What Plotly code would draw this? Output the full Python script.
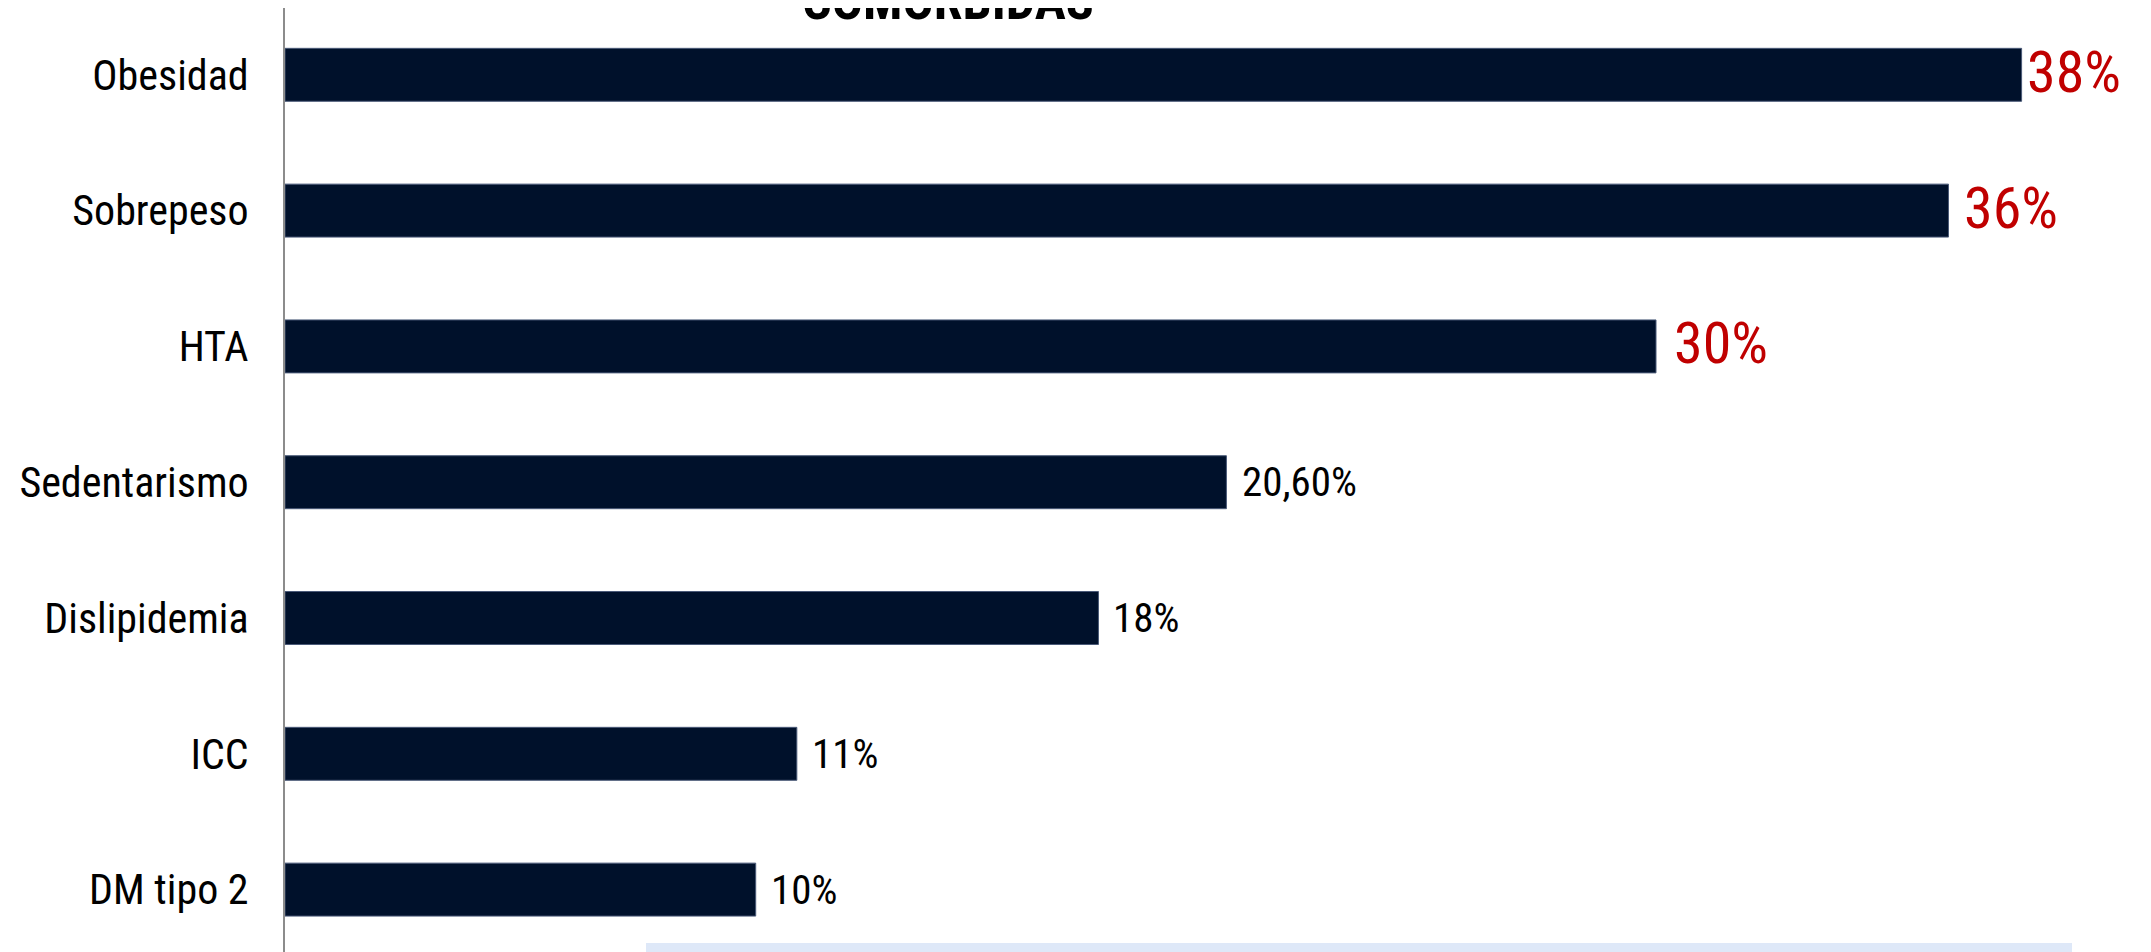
import plotly.graph_objects as go

# Data (bottom to top), bar lengths; labels as printed
categories = ["DM tipo 2", "ICC", "Dislipidemia", "Sedentarismo", "HTA", "Sobrepeso", "Obesidad"]
values = [10.3, 11.2, 17.8, 20.6, 30, 36.4, 38]
value_labels = ["10%", "11%", "18%", "20,60%", "30%", "36%", "38%"]
title_text = "COMORBIDAS"

# Styles
highlight = [False, False, False, False, True, True, True]
label_shift = [13, 13, 13, 14, 16, 14, 3]

FONT = "Liberation Sans Narrow, Roboto Condensed, DejaVu Sans Condensed, Arial Narrow, sans-serif"
BAR = "#00112B"
RED = "#C00000"

L = 277
PW = 2151 - L
PH = 952

fig = go.Figure()
fig.add_trace(go.Bar(
    x=values, y=categories, orientation="h",
    width=0.39,
    marker=dict(color=BAR, line=dict(color="#4a5a78", width=1)),
    hoverinfo="skip",
))

for cat, v, lab, hl, sh in zip(categories, values, value_labels, highlight, label_shift):
    fig.add_annotation(
        x=v, y=cat, xref="x", yref="y", text=lab, showarrow=False,
        xanchor="left", yanchor="middle", xshift=sh, yshift=(3 if hl else 0),
        font=dict(family=FONT, size=(58 if hl else 41), color=(RED if hl else "#000000")),
    )

fig.add_annotation(
    x=(948 - 285) / PW, y=1 - 26 / PH, xref="paper", yref="paper",
    text=title_text, showarrow=False, xanchor="center", yanchor="bottom",
    font=dict(family=FONT, size=52, color="#000000", weight="bold"),
)

fig.add_shape(
    type="rect", xref="paper", yref="paper",
    x0=(646 - 285) / PW, x1=(2072 - 285) / PW, y0=-0.05, y1=1 - 935 / PH,
    fillcolor="#DEE8F8", line=dict(width=0), layer="above",
)

fig.update_layout(
    width=2151, height=952,
    margin=dict(l=L, r=0, t=0, b=0, pad=0, autoexpand=False),
    paper_bgcolor="white", plot_bgcolor="white",
    showlegend=False,
    xaxis=dict(range=[0, PW / 45.7], visible=False, fixedrange=True, automargin=False),
    yaxis=dict(
        type="category", categoryorder="array", categoryarray=categories,
        range=[6.492 - PH / 135.8, 6.492],
        showline=True, linecolor="#8c8c8c", linewidth=2,
        showgrid=False, zeroline=False, ticks="",
        ticklabelstandoff=26, automargin=False,
        tickfont=dict(family=FONT, size=42, color="#000000"),
    ),
    font=dict(family=FONT),
)

fig.write_html("out.html")
